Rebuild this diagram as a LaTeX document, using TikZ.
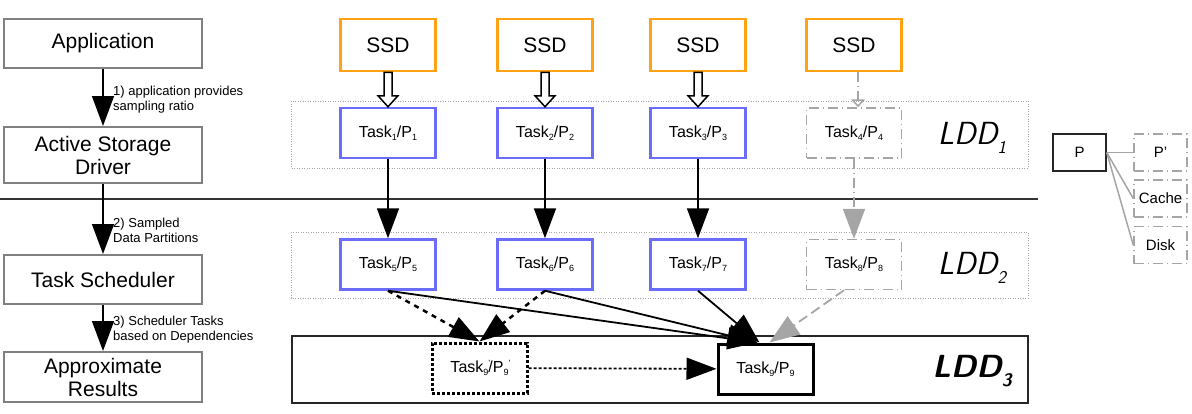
\documentclass[tikz,border=0pt]{standalone}
\usepackage{fontspec}
\setmainfont{Liberation Sans}
\usetikzlibrary{calc}
\usetikzlibrary{arrows.meta}
\definecolor{ssd1}{RGB}{255,162,20}
\definecolor{tk1}{RGB}{108,108,250}
\definecolor{gr1}{RGB}{128,128,128}
\definecolor{gr2}{RGB}{165,165,165}
\newcommand{\sub}[1]{{\fontsize{9}{9}\selectfont\raisebox{-3pt}{#1}}}
\newcommand{\tsk}[1]{Task\sub{#1}/P\sub{#1}}
\newcommand{\ldd}[1]{LDD\raisebox{-9pt}{\fontsize{18}{18}\selectfont #1}}

\begin{document}
\begin{tikzpicture}[
    x=1pt, y=-1pt,
    font=\sffamily,
    st/.style={
        draw=gr1, line width=2pt, minimum width=198pt,
        inner sep=0pt, align=center,
        font={\fontsize{21}{23}\selectfont}
    },
    ssd/.style={
        draw=ssd1, line width=2.5pt, minimum width=95pt, minimum height=52pt,
        inner sep=0pt, font={\fontsize{21}{21}\selectfont}
    },
    tk/.style={
        draw=tk1, line width=2.5pt, minimum width=95pt, minimum height=50pt,
        inner sep=0pt, font={\fontsize{16}{16}\selectfont}
    },
    tkg/.style={tk, draw=gr2, line width=1.5pt,
        dash pattern=on 10pt off 4pt on 1pt off 4pt},
    lg/.style={tkg, minimum width=53pt, minimum height=37pt,
        font={\fontsize{15}{15}\selectfont}},
    ldd/.style={draw=gr2, line width=1pt, dash pattern=on 1pt off 1.5pt},
    lab/.style={anchor=west, align=left, inner sep=0pt,
        font={\fontsize{13}{15}\selectfont}},
    big/.style={line width=1.8pt, -{Triangle[length=30pt,width=22pt]}},
    dsh/.style={big, line width=2.5pt, dash pattern=on 5pt off 5pt},
    hol/.style={line width=1.5pt, fill=white, line join=miter}
]
    \useasboundingbox (0,0) rectangle (1192,413);

    % frames of the three LDDs
    \draw [ldd] (291,101) rectangle (1028,168);
    \draw [ldd] (291,232) rectangle (1028,298);
    \draw [line width=2pt, draw=black!85] (292,336) rectangle (1028,403);
    \node (l1) at (972,138) {\fontsize{32}{32}\selectfont\itshape\ldd{1}};
    \node (l2) at (972,268) {\fontsize{32}{32}\selectfont\itshape\ldd{2}};
    \node (l3) at (972,371) {\fontsize{32}{32}\selectfont\bfseries\itshape\ldd{3}};

    % left column
    \node [st, minimum height=49pt] (app) at (103,43.5) {Application};
    \node [st, minimum height=56pt] (asd) at (103,155) {Active Storage\\Driver};
    \node [st, minimum height=49pt] (tsc) at (103,279.5) {Task Scheduler};
    \node [st, minimum height=50pt] (res) at (103,377) {Approximate\\Results};
    \node [lab] (c1) at (113,100) {1) application provides\\sampling ratio};
    \node [lab] (c2) at (113,230) {2) Sampled\\Data Partitions};
    \node [lab] (c3) at (113,329.5) {3) Scheduler Tasks\\based on Dependencies};

    \coordinate (hl) at (0,199);
    \coordinate (hr) at (1038,199);
    \draw [line width=1.5pt, draw=black!80] (hl) -- (hr);

    \draw [big, line width=1.5pt] (app) -- (asd);
    \draw [big, line width=1.5pt] (asd) -- (tsc);
    \draw [big, line width=1.5pt] (tsc) -- (res);

    % disks and tasks
    \node [ssd] (s1) at (388,45) {SSD};
    \node [ssd] (s2) at (545,45) {SSD};
    \node [ssd] (s3) at (698,45) {SSD};
    \node [ssd] (s4) at (854,45) {SSD};

    \node [tk]  (t1) at (388,133) {\tsk{1}};
    \node [tk]  (t2) at (545,133) {\tsk{2}};
    \node [tk]  (t3) at (698,133) {\tsk{3}};
    \node [tkg] (t4) at (854,133) {\tsk{4}};
    \node [tk]  (t5) at (388,264.5) {\tsk{5}};
    \node [tk]  (t6) at (545,264.5) {\tsk{6}};
    \node [tk]  (t7) at (698,264.5) {\tsk{7}};
    \node [tkg] (t8) at (854,264.5) {\tsk{8}};

    \node [tk, draw=black, line width=3pt, dash pattern=on 3pt off 2pt]
        (t9p) at (479.5,368) {Task\sub{9}\rlap{\raisebox{6pt}{\fontsize{9}{9}\selectfont'}}/P\sub{9}\rlap{\raisebox{6pt}{\fontsize{9}{9}\selectfont'}}};
    \node [tk, draw=black, line width=3pt] (t9) at (765.5,369) {\tsk{9}};

    \foreach \i in {1,2,3}
        \draw [hol] ($(s\i.south)+(-4,0)$) -- ($(t\i.north)+(-4,-11)$) --
            ($(t\i.north)+(-10,-11)$) -- (t\i.north) --
            ($(t\i.north)+(10,-11)$) -- ($(t\i.north)+(4,-11)$) --
            ($(s\i.south)+(4,0)$) -- cycle;
    \draw [gr2, line width=1.5pt, dash pattern=on 10pt off 4pt on 1pt off 4pt,
        -{Triangle[open,length=8pt,width=14pt]}] ([xshift=4pt]s4.south) -- ([xshift=4pt]t4.north);

    \draw [big] (t1) -- (t5);
    \draw [big] (t2) -- (t6);
    \draw [big] (t3) -- (t7);
    \draw [big, gr2, dash pattern=on 10pt off 4pt on 1pt off 4pt] (t4) -- (t8);

    \draw [dsh] (t5.south) -- (t9p.north);
    \draw [dsh] (t6.south) -- (t9p.north);
    \draw [big] (t5.south) -- ([xshift=-8pt]t9.north);
    \draw [big] (t6.south) -- ([xshift=-8pt]t9.north);
    \draw [big] (t7.south) -- ([xshift=-6pt]t9.north);
    \draw [big, gr2, dash pattern=on 10pt off 5pt] ([xshift=-10pt]t8.south) -- ([xshift=4pt]t9.north);
    \draw [big, dash pattern=on 3pt off 2pt] (t9p) -- (t9);

    % legend
    \node [draw=black!85, line width=1.5pt, minimum width=53pt, minimum height=37pt,
        inner sep=0pt, font={\fontsize{15}{15}\selectfont}] (p) at (1079.5,152.5) {P};
    \node [lg] (pp) at (1160.5,152.5) {P'};
    \node [lg] (ca) at (1160.5,198.5) {Cache};
    \node [lg] (di) at (1160.5,245) {Disk};
    \draw [gr2, line width=1.5pt] (p.east) -- (pp.west);
    \draw [gr2, line width=1.5pt] (p.east) -- (ca.west);
    \draw [gr2, line width=1.5pt] (p.east) -- (di.west);

\end{tikzpicture}
\end{document}
